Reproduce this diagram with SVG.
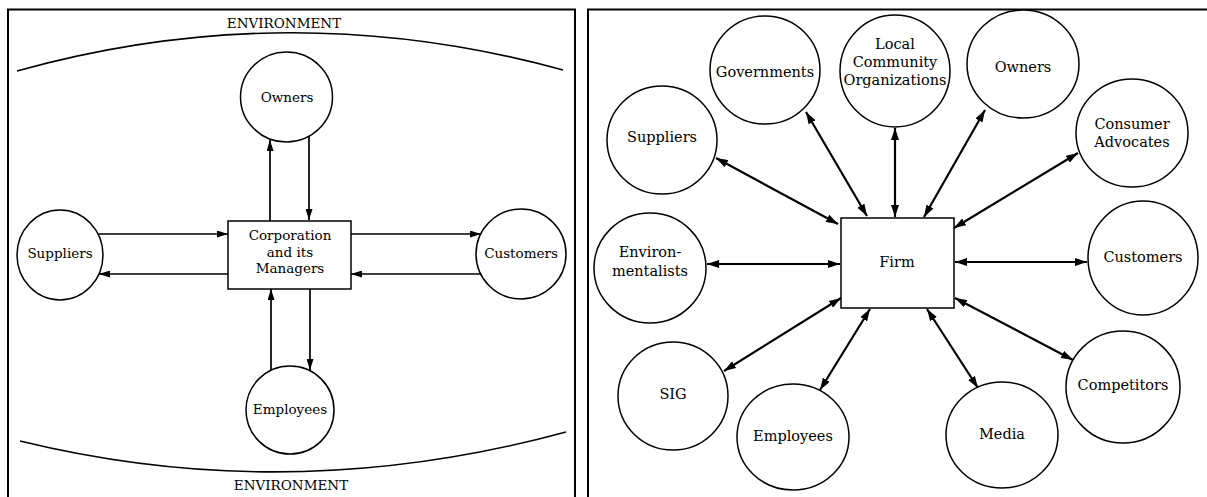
<svg xmlns="http://www.w3.org/2000/svg" width="1207" height="497" viewBox="0 0 1207 497">
<defs>
<style>
.bg{fill:#ffffff}
.frame{fill:none;stroke:#000;stroke-width:2}
.node{fill:#fff;stroke:#000;stroke-width:1.5}
.arc{fill:none;stroke:#000;stroke-width:1.6}
.l{font-family:"DejaVu Serif","Liberation Serif",serif;font-size:13.5px;fill:#000;text-anchor:middle}
.r{font-family:"DejaVu Serif","Liberation Serif",serif;font-size:14.5px;fill:#000;text-anchor:middle}
.c1{fill:none;stroke:#000;stroke-width:1.7;marker-end:url(#ah1)}
.c2{fill:none;stroke:#000;stroke-width:2.2;marker-start:url(#ah2);marker-end:url(#ah2)}
</style>
<marker id="ah1" viewBox="0 0 11 7" refX="11" refY="3.5" markerWidth="11" markerHeight="7" orient="auto" markerUnits="userSpaceOnUse"><path d="M0,0 L11,3.5 L0,7 z" fill="#000"/></marker>
<marker id="ah2" viewBox="0 0 12 8" refX="12" refY="4" markerWidth="12" markerHeight="8" orient="auto-start-reverse" markerUnits="userSpaceOnUse"><path d="M0,0 L12,4 L0,8 z" fill="#000"/></marker>
</defs>
<rect class="bg" x="0" y="0" width="1207" height="497"/>
<g id="frames">
<path class="frame" d="M8,498 V9.5 H575 V498"/>
<path class="frame" d="M588,498 V9.5 H1208"/>
</g>
<g id="environment">
<path class="arc" d="M17,71 Q290,-5 563,70"/>
<path class="arc" d="M20,441 Q290,507 566,432"/>
<text class="l" x="284" y="28">ENVIRONMENT</text>
<text class="l" x="291" y="490">ENVIRONMENT</text>
</g>
<g id="connectors-left">
<line class="c1" x1="270" y1="221" x2="270" y2="140"/>
<line class="c1" x1="309" y1="136" x2="309" y2="220"/>
<line class="c1" x1="98" y1="234" x2="228" y2="234"/>
<line class="c1" x1="228" y1="274" x2="99" y2="274"/>
<line class="c1" x1="351" y1="234" x2="481" y2="234"/>
<line class="c1" x1="481" y1="274" x2="351" y2="274"/>
<line class="c1" x1="271" y1="370" x2="271" y2="289"/>
<line class="c1" x1="310" y1="289" x2="310" y2="370"/>
</g>
<g id="l-owners"><ellipse class="node" cx="286.5" cy="97" rx="46" ry="45"/><text class="l" x="287" y="102">Owners</text></g>
<g id="l-corp"><rect class="node" x="228" y="221" width="123" height="68"/><text class="l" x="290" y="240">Corporation</text><text class="l" x="290" y="257">and its</text><text class="l" x="290" y="273">Managers</text></g>
<g id="l-suppliers"><ellipse class="node" cx="60" cy="255" rx="43" ry="45"/><text class="l" x="60" y="258">Suppliers</text></g>
<g id="l-customers"><ellipse class="node" cx="521" cy="254" rx="45" ry="45"/><text class="l" x="521" y="258">Customers</text></g>
<g id="l-employees"><ellipse class="node" cx="290" cy="410" rx="44" ry="44"/><text class="l" x="290" y="414">Employees</text></g>

<g id="connectors-right">
<line class="c2" x1="716" y1="158" x2="838" y2="224"/>
<line class="c2" x1="806" y1="112" x2="867" y2="216"/>
<line class="c2" x1="895" y1="128" x2="895" y2="217"/>
<line class="c2" x1="985" y1="110" x2="924" y2="217"/>
<line class="c2" x1="1078" y1="153" x2="954" y2="228"/>
<line class="c2" x1="707" y1="264" x2="840" y2="264"/>
<line class="c2" x1="955" y1="262" x2="1087" y2="262"/>
<line class="c2" x1="724" y1="371" x2="841" y2="298"/>
<line class="c2" x1="820" y1="390" x2="870" y2="309"/>
<line class="c2" x1="978" y1="388" x2="927" y2="309"/>
<line class="c2" x1="1073" y1="360" x2="955" y2="298"/>
</g>
<g id="r-governments"><ellipse class="node" cx="765" cy="70" rx="55" ry="54"/><text class="r" x="765" y="77">Governments</text></g>
<g id="r-local"><ellipse class="node" cx="895" cy="71" rx="55" ry="56"/><text class="r" x="895" y="49">Local</text><text class="r" x="895" y="67">Community</text><text class="r" x="895" y="85">Organizations</text></g>
<g id="r-owners"><ellipse class="node" cx="1023" cy="64" rx="56" ry="54"/><text class="r" x="1023" y="72">Owners</text></g>
<g id="r-suppliers"><ellipse class="node" cx="662" cy="140" rx="55" ry="54"/><text class="r" x="662" y="142">Suppliers</text></g>
<g id="r-consumer"><ellipse class="node" cx="1132" cy="133" rx="56" ry="54"/><text class="r" x="1132" y="129">Consumer</text><text class="r" x="1132" y="147">Advocates</text></g>
<g id="r-firm"><rect class="node" x="841" y="218" width="113" height="90"/><text class="r" x="897" y="267">Firm</text></g>
<g id="r-environmentalists"><ellipse class="node" cx="650" cy="268" rx="56" ry="55"/><text class="r" x="650" y="257">Environ-</text><text class="r" x="650" y="276">mentalists</text></g>
<g id="r-customers"><ellipse class="node" cx="1143" cy="258" rx="55" ry="57"/><text class="r" x="1143" y="262">Customers</text></g>
<g id="r-sig"><ellipse class="node" cx="673" cy="396" rx="55" ry="54"/><text class="r" x="673" y="399">SIG</text></g>
<g id="r-employees"><ellipse class="node" cx="793" cy="437" rx="56" ry="53"/><text class="r" x="793" y="441">Employees</text></g>
<g id="r-media"><ellipse class="node" cx="1002" cy="435" rx="56" ry="53"/><text class="r" x="1002" y="439">Media</text></g>
<g id="r-competitors"><ellipse class="node" cx="1123" cy="387" rx="57" ry="56"/><text class="r" x="1123" y="390">Competitors</text></g>
</svg>
